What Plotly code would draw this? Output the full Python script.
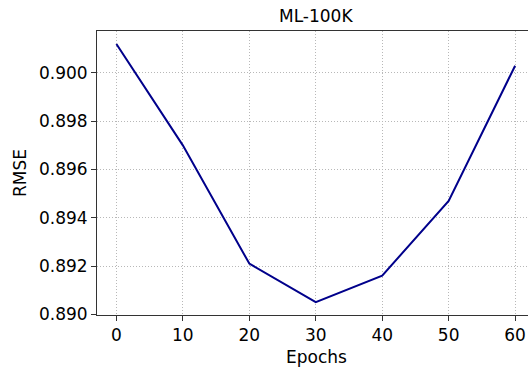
import plotly.graph_objects as go

epochs = [0, 10, 20, 30, 40, 50, 60]
rmse = [0.9012, 0.8970, 0.8921, 0.8905, 0.8916, 0.8947, 0.9003]
y_ticks = [0.890, 0.892, 0.894, 0.896, 0.898, 0.900]
y_tick_labels = ["0.890", "0.892", "0.894", "0.896", "0.898", "0.900"]
x_ticks = [0, 10, 20, 30, 40, 50, 60]

FONT = "DejaVu Sans"
W, H = 528, 369
L, T, B, R = 97, 31, 54, 0

fig = go.Figure()
fig.add_trace(go.Scatter(x=epochs, y=rmse, mode="lines",
                         line=dict(color="#00008B", width=2)))

axis_common = dict(showline=True, linecolor="#333333", linewidth=1,
                   ticks="outside", ticklen=5, tickwidth=1, tickcolor="#333333",
                   showgrid=True, gridcolor="#b8b8b8", gridwidth=1, griddash="1px,2px",
                   zeroline=False,
                   tickfont=dict(family=FONT, size=17, color="#000000"))

fig.update_xaxes(range=[-2.92, 61.94], tickvals=x_ticks, mirror=True, **axis_common)
fig.update_yaxes(range=[0.88997, 0.90174], tickvals=y_ticks, ticktext=y_tick_labels,
                 mirror=False, **axis_common)

cx = (316 - L) / (W - L - R)
fig.add_annotation(text="ML-100K", xref="paper", yref="paper", x=cx, y=1,
                   yshift=15, showarrow=False, xanchor="center", yanchor="middle",
                   font=dict(family=FONT, size=17, color="#000000"))
fig.add_annotation(text="Epochs", xref="paper", yref="paper", x=cx, y=0,
                   yshift=-42, showarrow=False, xanchor="center", yanchor="middle",
                   font=dict(family=FONT, size=17, color="#000000"))
fig.add_annotation(text="RMSE", xref="paper", yref="paper", x=0, y=0.5,
                   xshift=-77, showarrow=False, textangle=-90,
                   xanchor="center", yanchor="middle",
                   font=dict(family=FONT, size=17, color="#000000"))

fig.update_layout(width=W, height=H, margin=dict(l=L, r=R, t=T, b=B),
                  paper_bgcolor="white", plot_bgcolor="white", showlegend=False)

fig.write_html("out.html")
